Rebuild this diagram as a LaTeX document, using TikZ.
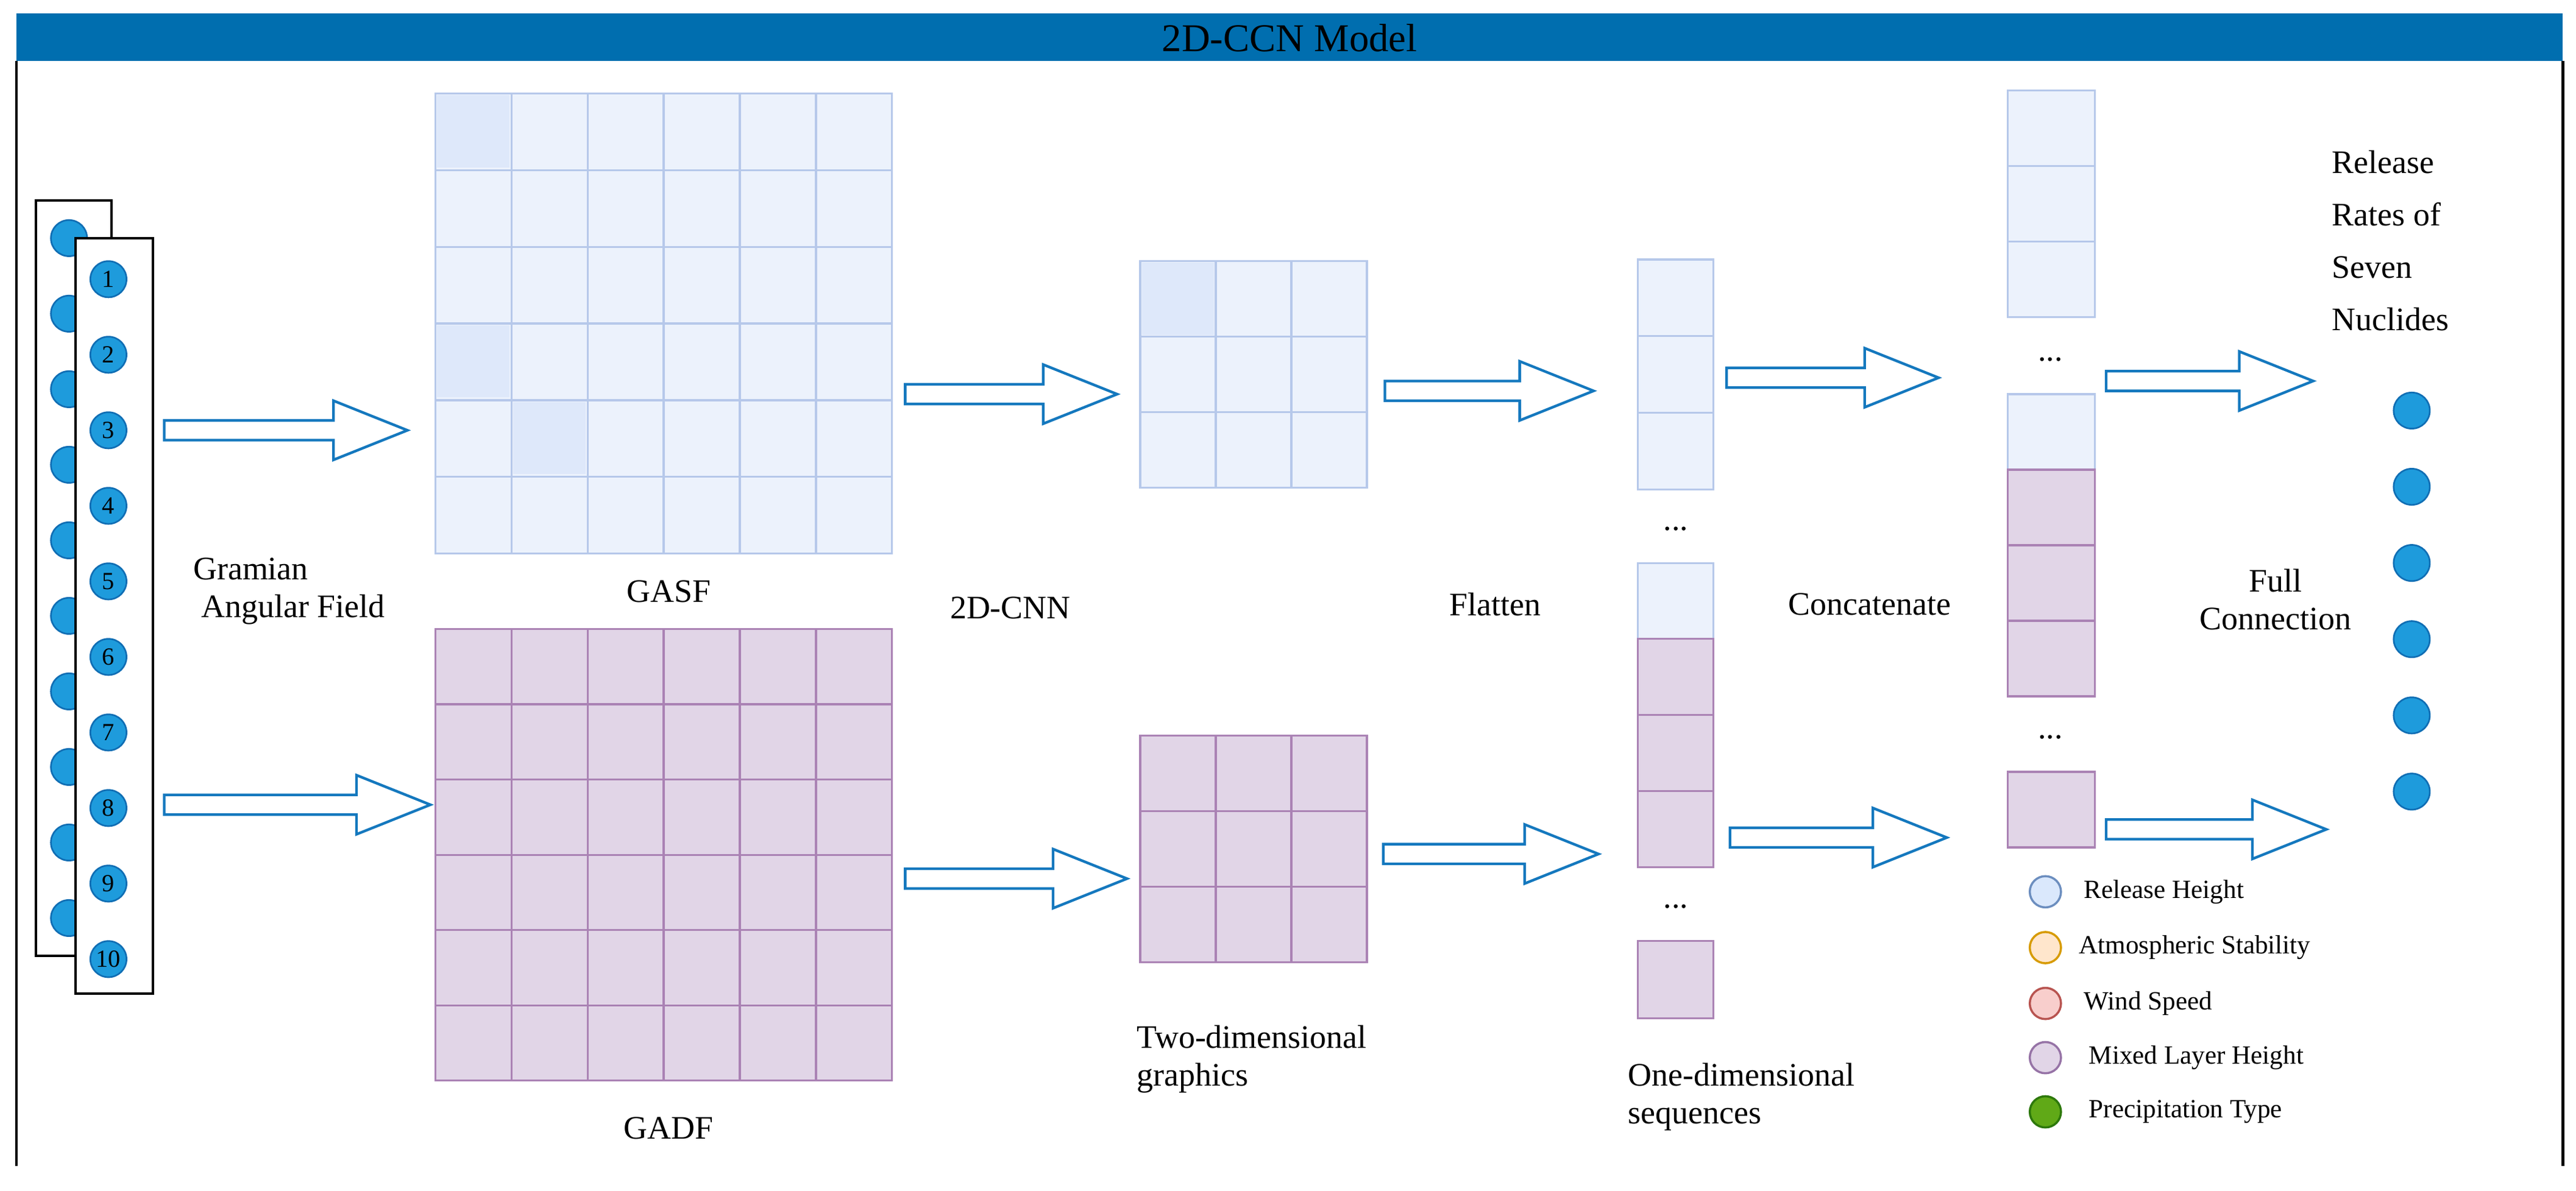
\documentclass[tikz,border=0pt]{standalone}
\usepackage{fontspec}
\setmainfont{Liberation Serif}
\definecolor{titleblue}{RGB}{0,110,175}
\definecolor{bstroke}{RGB}{182,200,234}
\definecolor{bfill}{RGB}{236,242,252}
\definecolor{bdark}{RGB}{222,232,250}
\definecolor{pstroke}{RGB}{170,130,180}
\definecolor{pfill}{RGB}{225,213,231}
\definecolor{arrblue}{RGB}{20,120,190}
\definecolor{dotstroke}{RGB}{16,110,180}
\definecolor{dotfill}{RGB}{30,155,220}
\definecolor{l1d}{RGB}{108,142,191}\definecolor{l1f}{RGB}{218,232,252}
\definecolor{l2d}{RGB}{215,155,0}\definecolor{l2f}{RGB}{255,230,204}
\definecolor{l3d}{RGB}{184,84,80}\definecolor{l3f}{RGB}{248,206,204}
\definecolor{l4d}{RGB}{150,115,166}\definecolor{l4f}{RGB}{225,213,231}
\definecolor{l5d}{RGB}{45,120,10}\definecolor{l5f}{RGB}{96,169,23}
\begin{document}
\begin{tikzpicture}[x=1pt,y=-1pt,
  lbl/.style={font=\fontsize{20}{23}\selectfont,align=center},
  leg/.style={font=\fontsize{16}{18}\selectfont,anchor=west},
  bcell/.style={draw=bstroke,fill=bfill,line width=1.2pt},
  pcell/.style={draw=pstroke,fill=pfill,line width=1.2pt},
  barr/.style={draw=arrblue,fill=white,line width=1.6pt},
  dot/.style={circle,draw=dotstroke,fill=dotfill,line width=1pt,minimum size=22pt,inner sep=0pt,font=\fontsize{15}{15}\selectfont},
  lc/.style={circle,minimum size=19pt,inner sep=0pt,line width=1.3pt}]
\useasboundingbox (0,0) rectangle (1568,725);
\newcommand\blkarrow[3]{\draw[barr] (#1,#3-6) -- (#2-45,#3-6) -- (#2-45,#3-18) -- (#2,#3) -- (#2-45,#3+18) -- (#2-45,#3+6) -- (#1,#3+6) -- cycle;}
% frame and title
\fill[titleblue] (10,8) rectangle (1560,37);
\node[font=\fontsize{24}{26}\selectfont] (title) at (785,23) {2D-CCN Model};
\draw[line width=1.5pt] (10,37) -- (10,710);
\draw[line width=1.5pt] (1560,37) -- (1560,710);
% input columns
\draw[line width=1.5pt,fill=white] (22,122) rectangle (68,582);
\foreach \i in {0,...,9} \node[dot] (b\i) at (42,145+46*\i) {};
\draw[line width=1.5pt,fill=white] (46,145) rectangle (93,605);
\foreach \i in {1,...,10} \node[dot] (in\i) at (66,170+46*\i-46) {\i};
\node[lbl,align=left] (gaf) at (176,360) {Gramian\\\ Angular Field};
\blkarrow{100}{248}{262}
\blkarrow{100}{262}{490}
% GASF
\foreach \i in {0,...,5} \foreach \j in {0,...,5}
  \draw[bcell] (265+46.33*\i,57+46.67*\j) rectangle ++(46.33,46.67);
\foreach \i/\j in {0/0,0/3,1/4}
  \fill[bdark] (266+46.33*\i,58+46.67*\j) rectangle ++(44,44);
\node[lbl] (gasf) at (407,360) {GASF};
% GADF
\foreach \i in {0,...,5} \foreach \j in {0,...,5}
  \draw[pcell] (265+46.33*\i,383+45.83*\j) rectangle ++(46.33,45.83);
\node[lbl] (gadf) at (407,687) {GADF};
\blkarrow{551}{680}{240}
\blkarrow{551}{686}{535}
% small grids
\foreach \i in {0,...,2} \foreach \j in {0,...,2} {
  \draw[bcell] (694+46*\i,159+46*\j) rectangle ++(46,46);
  \draw[pcell] (694+46*\i,448+46*\j) rectangle ++(46,46);}
\fill[bdark] (695,160) rectangle (739,204);
\node[lbl] (cnn) at (615,370) {2D-CNN};
\node[lbl,align=left] (twod) at (762,645) {Two-dimensional\\graphics};
\blkarrow{843}{970}{238}
\blkarrow{842}{973}{520}
\node[lbl] (flat) at (910,368) {Flatten};
% flatten columns
\foreach \j in {0,1,2} \draw[bcell] (997,158+46.67*\j) rectangle ++(46,46.67);
\node[lbl] (d1) at (1020,322) {...};
\draw[bcell] (997,343) rectangle (1043,389);
\foreach \j in {0,1,2} \draw[pcell] (997,389+46.33*\j) rectangle ++(46,46.33);
\node[lbl] (d2) at (1020,552) {...};
\draw[pcell] (997,573) rectangle (1043,620);
\node[lbl,align=left] (oned) at (1060,668) {One-dimensional\\sequences};
\blkarrow{1051}{1180}{230}
\blkarrow{1053}{1185}{510}
\node[lbl] (conc) at (1138,368) {Concatenate};
% concat column
\foreach \j in {0,1,2} \draw[bcell] (1222,55+46*\j) rectangle ++(53,46);
\node[lbl] (d3) at (1248,219) {...};
\draw[bcell] (1222,240) rectangle (1275,286);
\foreach \j in {0,1,2} \draw[pcell] (1222,286+46*\j) rectangle ++(53,46);
\node[lbl] (d4) at (1248,449) {...};
\draw[pcell] (1222,470) rectangle (1275,516);
\blkarrow{1282}{1408}{232}
\blkarrow{1282}{1416}{505}
\node[lbl] (fc) at (1385,365) {Full\\Connection};
\node[lbl,align=left,anchor=north west,font=\fontsize{20}{32}\selectfont] (rr) at (1416,88) {Release\\Rates of\\Seven\\Nuclides};
\foreach \i in {0,...,5} \node[dot] (o\i) at (1468,250+46.4*\i) {};
% legend
\node[lc,draw=l1d,fill=l1f] (l1) at (1245,543) {};
\node[lc,draw=l2d,fill=l2f] (l2) at (1245,577) {};
\node[lc,draw=l3d,fill=l3f] (l3) at (1245,611) {};
\node[lc,draw=l4d,fill=l4f] (l4) at (1245,644) {};
\node[lc,draw=l5d,fill=l5f] (l5) at (1245,677) {};
\node[leg] (t1) at (1265,543) {Release Height};
\node[leg] (t2) at (1262,577) {Atmospheric Stability};
\node[leg] (t3) at (1265,611) {Wind Speed};
\node[leg] (t4) at (1268,644) {Mixed Layer Height};
\node[leg] (t5) at (1268,677) {Precipitation Type};
\end{tikzpicture}
\end{document}
